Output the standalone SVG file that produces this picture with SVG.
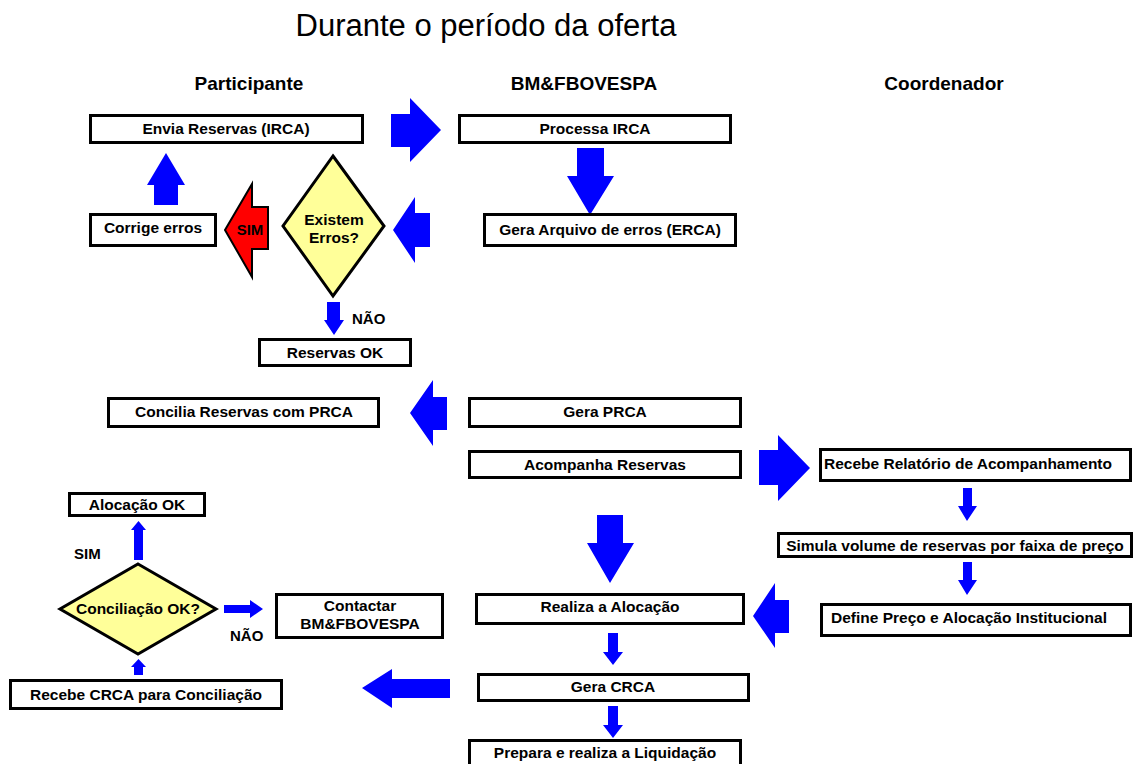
<svg xmlns="http://www.w3.org/2000/svg" width="1135" height="764" viewBox="0 0 1135 764">
<style>
.box{fill:#fff;stroke:#000;stroke-width:3}
.dia{fill:#FFFF99;stroke:#000;stroke-width:3}
.arr{fill:#0000FF}
.red{fill:#FF0000;stroke:#000;stroke-width:2}
text{font-family:"Liberation Sans",Arial,sans-serif;fill:#000}
.t{font-size:15.5px;font-weight:bold;text-anchor:middle}
.h{font-size:19px;font-weight:bold;text-anchor:middle}
.l{font-size:15px;font-weight:bold}
</style>
<rect width="1135" height="764" fill="#fff"/>
<text x="486" y="36" style="font-size:31px;text-anchor:middle">Durante o período da oferta</text>
<text class="h" x="249" y="90">Participante</text>
<text class="h" x="584" y="90">BM&amp;FBOVESPA</text>
<text class="h" x="944" y="90">Coordenador</text>

<g id="connectors">
<polygon class="arr" points="391,114 410,114 410,98 441,130 410,162 410,147 391,147"/>
<polygon class="arr" points="577,148 604,148 604,176 614,176 590,215 567,176 577,176"/>
<polygon class="arr" points="430,213 415,213 415,197 393,230 415,263 415,247 430,247"/>
<g id="sim-arrow">
<polygon class="red" points="268,207 252,207 252,184 225,230 252,277 252,249 268,249"/>
<text class="l" x="250" y="235" text-anchor="middle">SIM</text>
</g>
<polygon class="arr" points="154,205 154,185 147,185 166,153 185,185 178,185 178,205"/>
<polygon class="arr" points="327,302 340,302 340,320 344,320 334,335 324,320 327,320"/>
<text class="l" x="352" y="324">NÃO</text>
<polygon class="arr" points="447,397 433,397 433,380 410,413 433,446 433,430 447,430"/>
<polygon class="arr" points="759,450 778,450 778,435 810,468 778,501 778,485 759,485"/>
<polygon class="arr" points="963,488 972,488 972,506 977,506 967,521 958,506 963,506"/>
<polygon class="arr" points="963,562 972,562 972,580 977,580 967,595 958,580 963,580"/>
<polygon class="arr" points="597,515 623,515 623,543 634,543 610,583 587,543 597,543"/>
<polygon class="arr" points="789,600 775,600 775,583 753,616 775,648 775,633 789,633"/>
<polygon class="arr" points="608,633 618,633 618,652 623,652 613,665 603,652 608,652"/>
<polygon class="arr" points="608,706 618,706 618,725 623,725 613,738 603,725 608,725"/>
<polygon class="arr" points="450,679 392,679 392,669 362,688 392,708 392,698 450,698"/>
<polygon class="arr" points="134,560 134,530 131,530 138.5,521 146,530 143,530 143,560"/>
<text class="l" x="74" y="559">SIM</text>
<polygon class="arr" points="224,605 250,605 250,600 263,609 250,618 250,613 224,613"/>
<text class="l" x="230" y="641">NÃO</text>
<polygon class="arr" points="134,675 134,667 131,667 138.5,659 146,667 143,667 143,675"/>
</g>

<g id="envia"><rect class="box" x="90.5" y="115.5" width="272" height="27"/><text class="t" x="226" y="134">Envia Reservas (IRCA)</text></g>
<g id="processa"><rect class="box" x="459.5" y="115.5" width="271" height="27"/><text class="t" x="595" y="134">Processa IRCA</text></g>
<g id="erca"><rect class="box" x="484.5" y="214.5" width="251" height="31"/><text class="t" x="610" y="235">Gera Arquivo de erros (ERCA)</text></g>
<g id="corrige"><rect class="box" x="90.5" y="214.5" width="125" height="31"/><text class="t" x="153" y="233">Corrige erros</text></g>
<g id="existem"><polygon class="dia" points="333,156 384,226 333,296 283,226"/><text class="t" x="334" y="225">Existem</text><text class="t" x="334" y="243">Erros?</text></g>
<g id="reservas-ok"><rect class="box" x="259.5" y="339.5" width="151" height="26"/><text class="t" x="335" y="358">Reservas OK</text></g>
<g id="concilia"><rect class="box" x="108.5" y="398.5" width="270" height="28"/><text class="t" x="244" y="417">Concilia Reservas com PRCA</text></g>
<g id="gera-prca"><rect class="box" x="469.5" y="398.5" width="271" height="28"/><text class="t" x="605" y="417">Gera PRCA</text></g>
<g id="acompanha"><rect class="box" x="469.5" y="451.5" width="271" height="26"/><text class="t" x="605" y="470">Acompanha Reservas</text></g>
<g id="recebe-rel"><rect class="box" x="820.5" y="449.5" width="310" height="31"/><text class="t" x="968" y="469">Recebe Relatório de Acompanhamento</text></g>
<g id="simula"><rect class="box" x="778.5" y="533.5" width="353" height="23"/><text class="t" x="955" y="551">Simula volume de reservas por faixa de preço</text></g>
<g id="define"><rect class="box" x="821.5" y="604.5" width="309" height="31"/><text class="t" x="969" y="623">Define Preço e Alocação Institucional</text></g>
<g id="realiza"><rect class="box" x="476.5" y="594.5" width="267" height="29"/><text class="t" x="610" y="612">Realiza a Alocação</text></g>
<g id="gera-crca"><rect class="box" x="478.5" y="674.5" width="270" height="26"/><text class="t" x="613" y="692">Gera CRCA</text></g>
<g id="prepara"><rect class="box" x="469.5" y="740.5" width="271" height="30"/><text class="t" x="605" y="758">Prepara e realiza a Liquidação</text></g>
<g id="alocacao-ok"><rect class="box" x="69.5" y="493.5" width="135" height="22"/><text class="t" x="137" y="510">Alocação OK</text></g>
<g id="conciliacao"><polygon class="dia" points="138,564 216,609 138,654 60,609"/><text class="t" x="138" y="614">Conciliação OK?</text></g>
<g id="contactar"><rect class="box" x="276.5" y="594.5" width="166" height="43"/><text class="t" x="360" y="611">Contactar</text><text class="t" x="360" y="629">BM&amp;FBOVESPA</text></g>
<g id="recebe-crca"><rect class="box" x="10.5" y="680.5" width="271" height="28"/><text class="t" x="146" y="700">Recebe CRCA para Conciliação</text></g>
</svg>
